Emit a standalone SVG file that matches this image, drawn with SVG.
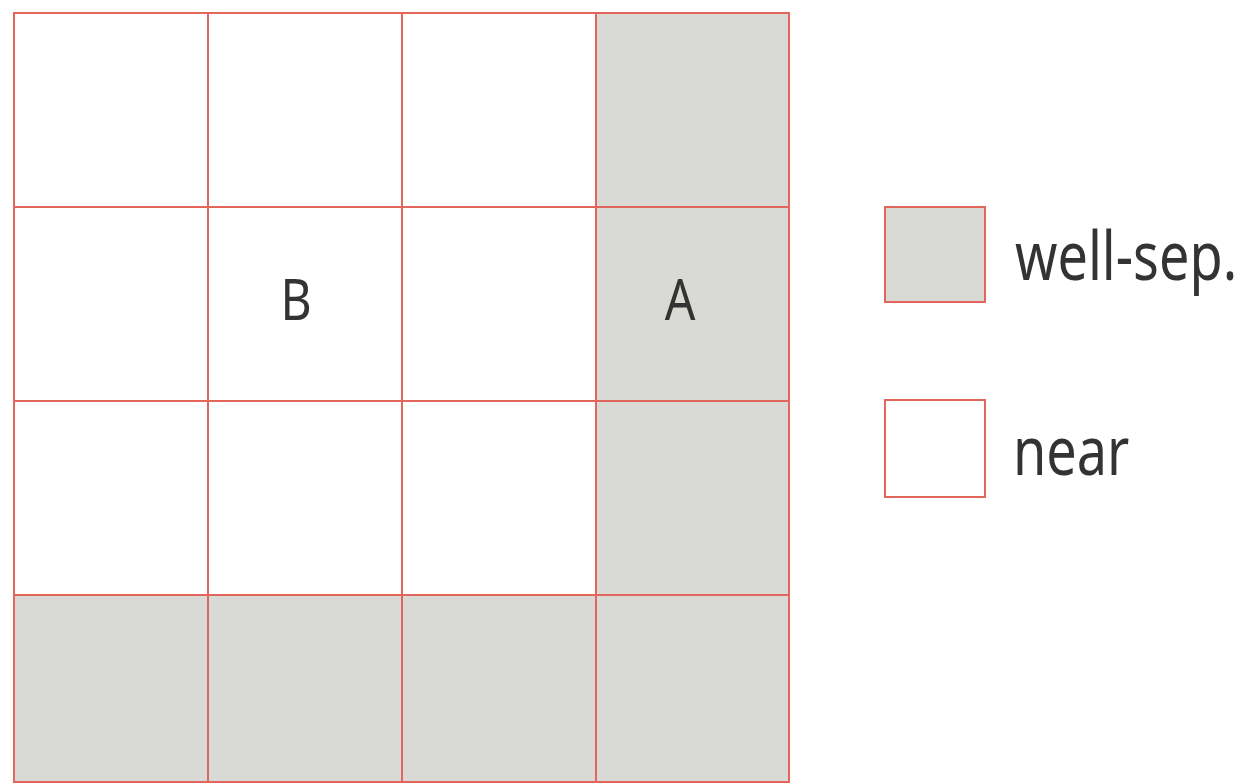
<svg xmlns="http://www.w3.org/2000/svg" width="1247" height="784" viewBox="0 0 1247 784">
  <style>
    .near { fill: #ffffff; stroke: #e2665c; stroke-width: 2; }
    .sep { fill: #d9d9d5; stroke: #e2665c; stroke-width: 2; }
    .lbl { font-family: "Noto Sans", "DejaVu Sans", sans-serif; fill: #333333; }
  </style>
  <rect width="1247" height="784" fill="#ffffff"/>
  <g id="grid">
    <g id="r1c1"><rect class="near" x="14" y="13" width="194" height="194"/></g>
    <g id="r1c2"><rect class="near" x="208" y="13" width="194" height="194"/></g>
    <g id="r1c3"><rect class="near" x="402" y="13" width="194" height="194"/></g>
    <g id="r1c4"><rect class="sep" x="596" y="13" width="193" height="194"/></g>
    <g id="r2c1"><rect class="near" x="14" y="207" width="194" height="194"/></g>
    <g id="r2c2"><rect class="near" x="208" y="207" width="194" height="194"/>
      <text class="lbl" font-size="48" text-anchor="middle" transform="translate(296,320) scale(1,1.17)">B</text></g>
    <g id="r2c3"><rect class="near" x="402" y="207" width="194" height="194"/></g>
    <g id="r2c4"><rect class="sep" x="596" y="207" width="193" height="194"/>
      <text class="lbl" font-size="48" text-anchor="middle" transform="translate(680,320) scale(1,1.17)">A</text></g>
    <g id="r3c1"><rect class="near" x="14" y="401" width="194" height="194"/></g>
    <g id="r3c2"><rect class="near" x="208" y="401" width="194" height="194"/></g>
    <g id="r3c3"><rect class="near" x="402" y="401" width="194" height="194"/></g>
    <g id="r3c4"><rect class="sep" x="596" y="401" width="193" height="194"/></g>
    <g id="r4c1"><rect class="sep" x="14" y="595" width="194" height="187"/></g>
    <g id="r4c2"><rect class="sep" x="208" y="595" width="194" height="187"/></g>
    <g id="r4c3"><rect class="sep" x="402" y="595" width="194" height="187"/></g>
    <g id="r4c4"><rect class="sep" x="596" y="595" width="193" height="187"/></g>
  </g>
  <g id="legend-well-sep">
    <rect class="sep" x="885" y="207" width="100" height="95"/>
    <text class="lbl" font-size="54" transform="translate(1015,280) scale(1,1.25)">well-sep.</text>
  </g>
  <g id="legend-near">
    <rect class="near" x="885" y="400" width="100" height="97"/>
    <text class="lbl" font-size="54" transform="translate(1013,475) scale(1,1.25)">near</text>
  </g>
  <g id="connectors"/>
</svg>
